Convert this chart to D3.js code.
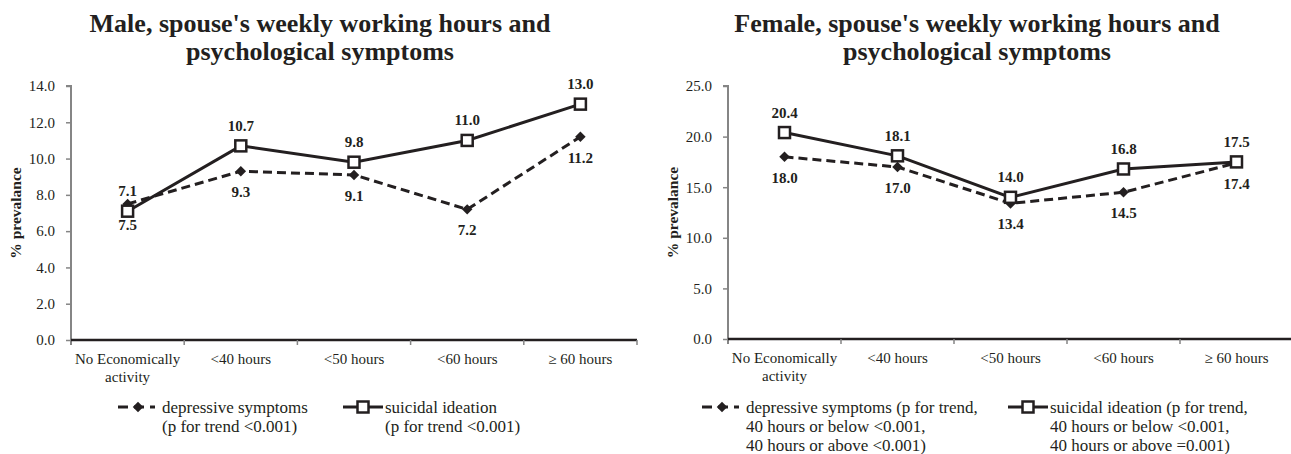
<!DOCTYPE html>
<html>
<head>
<meta charset="utf-8">
<script src="https://cdn.jsdelivr.net/npm/d3@7"></script>
<style>
  body { margin: 0; background: #fff; }
  svg { display: block; font-family: "Liberation Serif", "Times New Roman", serif; }
</style>
</head>
<body>
<svg id="chart" width="1291" height="454"></svg>
<script>
// categories shared by both panels
const categories = [["No Economically", "activity"], ["<40 hours"], ["<50 hours"], ["<60 hours"], ["\u2265 60 hours"]];

// male panel
const maleDepressive = [7.5, 9.3, 9.1, 7.2, 11.2];
const maleSuicidal = [7.1, 10.7, 9.8, 11.0, 13.0];
const maleTicks = [0, 2, 4, 6, 8, 10, 12, 14];
const maleTitle = ["Male, spouse's weekly working hours and", "psychological symptoms"];
const maleDepLegend = ["depressive symptoms", "(p for trend <0.001)"];
const maleSuiLegend = ["suicidal ideation", "(p for trend <0.001)"];

// female panel
const femaleDepressive = [18.0, 17.0, 13.4, 14.5, 17.4];
const femaleSuicidal = [20.4, 18.1, 14.0, 16.8, 17.5];
const femaleTicks = [0, 5, 10, 15, 20, 25];
const femaleTitle = ["Female, spouse's weekly working hours and", "psychological symptoms"];
const femaleDepLegend = ["depressive symptoms (p for trend,", "40 hours or below <0.001,", "40 hours or above <0.001)"];
const femaleSuiLegend = ["suicidal ideation (p for trend,", "40 hours or below <0.001,", "40 hours or above =0.001)"];

const ink = "#231f20";
const serif = "Liberation Serif, Times New Roman, serif";
const svg = d3.select("#chart");

function drawPanel(p) {
    const g = svg.append("g").attr("font-family", serif);

    const x = d3.scaleBand().domain(d3.range(categories.length)).range([p.left, p.right]);
    const y = d3.scaleLinear().domain([0, d3.max(p.ticks)]).range([p.bottom, p.top]);

    // title
    g.append("text")
        .attr("x", p.titleX).attr("y", 32)
        .attr("text-anchor", "middle")
        .attr("font-size", 26).attr("font-weight", "bold").attr("fill", ink)
        .selectAll("tspan").data(p.title).join("tspan")
        .attr("x", p.titleX).attr("dy", (d, i) => i ? 28 : 0)
        .text(d => d);

    // y axis (grey)
    const yAxis = g.append("g")
        .attr("transform", `translate(${p.left},0)`)
        .call(d3.axisLeft(y).tickValues(p.ticks).tickFormat(d3.format(".1f")).tickSize(5).tickPadding(11));
    yAxis.attr("font-family", serif);
    yAxis.select(".domain").attr("stroke", "#858585").attr("stroke-width", 2).attr("d", `M-5,${p.top}H0V${p.bottom + 5}`);
    yAxis.selectAll(".tick line").attr("stroke", "#858585").attr("stroke-width", 1.5);
    yAxis.selectAll(".tick text").attr("font-size", 15).attr("fill", ink);

    // x axis (black, ticks at band edges)
    g.append("line")
        .attr("x1", p.left).attr("x2", p.right)
        .attr("y1", y(0)).attr("y2", y(0))
        .attr("stroke", ink).attr("stroke-width", 2.5);
    g.selectAll(".xtick").data(d3.range(1, categories.length + 1)).join("line")
        .attr("x1", i => p.left + i * x.bandwidth()).attr("x2", i => p.left + i * x.bandwidth())
        .attr("y1", y(0)).attr("y2", y(0) + 5)
        .attr("stroke", "#858585").attr("stroke-width", 1.5);

    const cx = i => x(i) + x.bandwidth() / 2;

    g.selectAll(".xlab").data(categories).join("text")
        .attr("x", (d, i) => cx(i)).attr("y", y(0) + 24)
        .attr("text-anchor", "middle").attr("font-size", 15).attr("fill", ink)
        .each(function(d, i) {
            d3.select(this).selectAll("tspan").data(d).join("tspan")
                .attr("x", cx(i)).attr("dy", (t, k) => k ? 18 : 0).text(t => t);
        });

    // y axis title
    g.append("text")
        .attr("transform", `translate(${p.yTitleX},${(p.top + p.bottom) / 2}) rotate(-90)`)
        .attr("text-anchor", "middle").attr("font-size", 15.5).attr("font-weight", "bold").attr("fill", ink)
        .text("% prevalance");

    const line = d3.line().x((d, i) => cx(i)).y(d => y(d));

    // depressive symptoms - dashed with diamonds
    g.append("path").datum(p.dep).attr("d", line)
        .attr("fill", "none").attr("stroke", ink).attr("stroke-width", 3).attr("stroke-dasharray", "9,5");
    // suicidal ideation - solid with squares
    g.append("path").datum(p.sui).attr("d", line)
        .attr("fill", "none").attr("stroke", ink).attr("stroke-width", 3);

    const diamond = d3.symbol().type(d3.symbolDiamond2).size(70);
    g.selectAll(".dep").data(p.dep).join("path")
        .attr("transform", (d, i) => `translate(${cx(i)},${y(d)})`)
        .attr("d", diamond).attr("fill", ink);

    g.selectAll(".sui").data(p.sui).join("rect")
        .attr("x", (d, i) => cx(i) - 5.5).attr("y", d => y(d) - 5.5)
        .attr("width", 11).attr("height", 11)
        .attr("fill", "#fff").attr("stroke", ink).attr("stroke-width", 2.5);

    // value labels: suicidal above, depressive below
    g.selectAll(".suil").data(p.sui).join("text")
        .attr("x", (d, i) => cx(i)).attr("y", d => y(d) - 15)
        .attr("text-anchor", "middle").attr("font-size", 15).attr("font-weight", "bold").attr("fill", ink)
        .text(d => d.toFixed(1));
    g.selectAll(".depl").data(p.dep).join("text")
        .attr("x", (d, i) => cx(i)).attr("y", d => y(d) + 26)
        .attr("text-anchor", "middle").attr("font-size", 15).attr("font-weight", "bold").attr("fill", ink)
        .text(d => d.toFixed(1));

    // legend
    const ly = 407;
    g.append("line").attr("x1", p.depLeg).attr("x2", p.depLeg + 37).attr("y1", ly).attr("y2", ly)
        .attr("stroke", ink).attr("stroke-width", 3).attr("stroke-dasharray", "10,6");
    g.append("path").attr("transform", `translate(${p.depLeg + 20},${ly})`).attr("d", diamond).attr("fill", ink);
    g.append("line").attr("x1", p.suiLeg).attr("x2", p.suiLeg + 40).attr("y1", ly).attr("y2", ly)
        .attr("stroke", ink).attr("stroke-width", 3);
    g.append("rect").attr("x", p.suiLeg + 14.5).attr("y", ly - 5.5).attr("width", 11).attr("height", 11)
        .attr("fill", "#fff").attr("stroke", ink).attr("stroke-width", 2.5);

    [[p.depLeg + 44, p.depText], [p.suiLeg + 42, p.suiText]].forEach(([lx, lines]) => {
        g.append("text").attr("x", lx).attr("y", 413)
            .attr("font-size", 17).attr("fill", ink)
            .selectAll("tspan").data(lines).join("tspan")
            .attr("x", lx).attr("dy", (d, i) => i ? 19 : 0).text(d => d);
    });
}

drawPanel({
    left: 71, right: 637, top: 86, bottom: 340,
    titleX: 320, yTitleX: 21,
    ticks: maleTicks, dep: maleDepressive, sui: maleSuicidal, title: maleTitle,
    depLeg: 118, suiLeg: 343, depText: maleDepLegend, suiText: maleSuiLegend
});

drawPanel({
    left: 728, right: 1293, top: 86, bottom: 339,
    titleX: 977, yTitleX: 678,
    ticks: femaleTicks, dep: femaleDepressive, sui: femaleSuicidal, title: femaleTitle,
    depLeg: 702, suiLeg: 1008, depText: femaleDepLegend, suiText: femaleSuiLegend
});
</script>
</body>
</html>
